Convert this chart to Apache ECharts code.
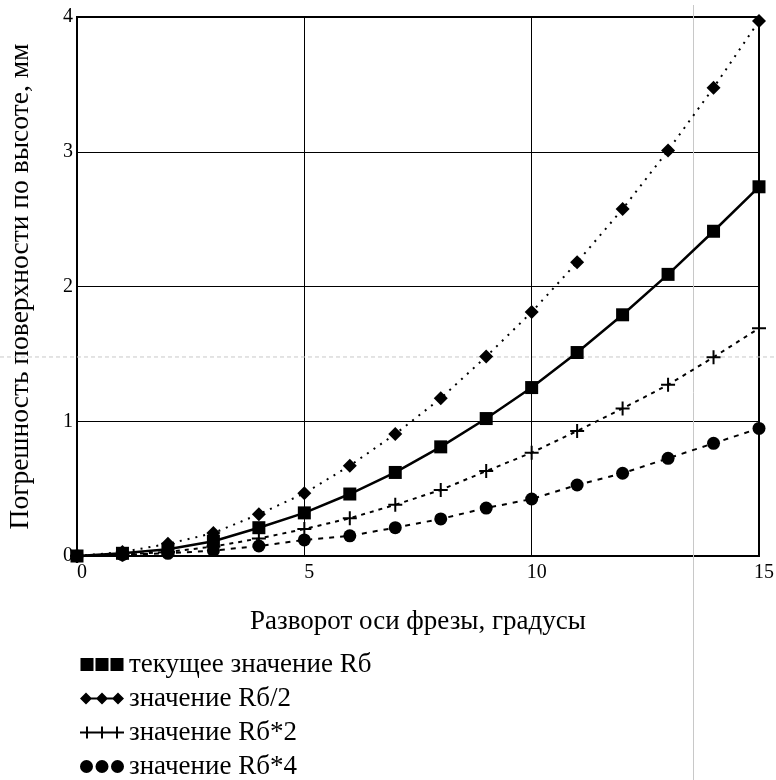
<!DOCTYPE html>
<html>
<head>
<meta charset="utf-8">
<script src="https://cdn.jsdelivr.net/npm/echarts@6/dist/echarts.min.js"></script>
<style>
  html, body { margin: 0; padding: 0; background: #fff; }
  #chart { width: 776px; height: 780px; }
</style>
</head>
<body>
<div id="chart"></div>
<script>
// angle of the cutter axis, degrees
const angles = [0, 1, 2, 3, 4, 5, 6, 7, 8, 9, 10, 11, 12, 13, 14, 15]
// surface height error, mm
const rCurrent = [0, 0.02, 0.05, 0.11, 0.21, 0.32, 0.46, 0.62, 0.81, 1.02, 1.25, 1.51, 1.79, 2.09, 2.41, 2.74]
const rHalf = [0, 0.03, 0.09, 0.17, 0.31, 0.465, 0.67, 0.905, 1.17, 1.48, 1.81, 2.18, 2.575, 3.01, 3.475, 3.97]
const rDouble = [0, 0.01, 0.03, 0.07, 0.13, 0.2, 0.28, 0.38, 0.49, 0.63, 0.767, 0.928, 1.095, 1.27, 1.475, 1.69]
const rQuad = [0, 0.01, 0.02, 0.04, 0.074, 0.119, 0.15, 0.21, 0.275, 0.356, 0.423, 0.527, 0.614, 0.725, 0.836, 0.947]
// Mathcad trace cursor position (x, y)
const cursor = [13.56, 1.477]

const names = ['текущее значение Rб', 'значение Rб/2', 'значение Rб*2', 'значение Rб*4']

const pair = arr => angles.map((a, i) => [a, arr[i]])

const crossPath = 'path://M0,6H6V0H8V6H14V8H8V14H6V8H0Z'
const diamondPath = 'path://M6,0L12,6L6,12L0,6Z'

const chart = echarts.init(document.getElementById('chart'))
chart.setOption({
  animation: false,
  textStyle: { fontFamily: 'Liberation Serif', color: '#000' },
  grid: {
    left: 77,
    right: 17,
    top: 17,
    bottom: 224,
    outerBoundsMode: 'none',
    show: true,
    borderColor: '#000',
    borderWidth: 2
  },
  legend: {
    orient: 'vertical',
    left: 80,
    top: 651,
    padding: 0,
    itemGap: 7,
    itemWidth: 44,
    itemHeight: 13,
    textStyle: { fontFamily: 'Liberation Serif', fontSize: 27, lineHeight: 26, color: '#000' },
    data: [
      { name: names[0], icon: 'path://M0,0H13V13H0ZM15,0H28V13H15ZM30,0H43V13H30Z' },
      { name: names[1], icon: 'path://M6,0L12,6L6,12L0,6ZM22,0L28,6L22,12L16,6ZM38,0L44,6L38,12L32,6ZM10,5H34V7H10Z' },
      { name: names[2], icon: 'path://M0,5H44V7H0ZM6,0H8V12H6ZM21,0H23V12H21ZM36,0H38V12H36Z' },
      { name: names[3], icon: 'path://M0,6.5A6.5,6.5,0,1,0,13,6.5A6.5,6.5,0,1,0,0,6.5ZM15.5,6.5A6.5,6.5,0,1,0,28.5,6.5A6.5,6.5,0,1,0,15.5,6.5ZM31,6.5A6.5,6.5,0,1,0,44,6.5A6.5,6.5,0,1,0,31,6.5Z' }
    ]
  },
  xAxis: {
    type: 'value',
    min: 0,
    max: 15,
    interval: 5,
    name: 'Разворот оси фрезы, градусы',
    nameLocation: 'middle',
    nameGap: 52,
    nameTextStyle: { fontFamily: 'Liberation Serif', fontSize: 27, color: '#000' },
    axisLine: { lineStyle: { color: '#000', width: 2 } },
    axisTick: { show: false },
    axisLabel: { fontSize: 20, color: '#000', margin: 7, padding: [0, 0, 0, 10] },
    splitLine: { lineStyle: { color: '#000', width: 1 } }
  },
  yAxis: {
    type: 'value',
    min: 0,
    max: 4,
    interval: 1,
    name: 'Погрешность поверхности по высоте, мм',
    nameLocation: 'middle',
    nameGap: 42,
    nameTextStyle: { fontFamily: 'Liberation Serif', fontSize: 27.5, color: '#000' },
    axisLine: { lineStyle: { color: '#000', width: 2 } },
    axisTick: { show: false },
    axisLabel: { fontSize: 20, color: '#000', margin: 4, padding: [8, 0, 0, 0] },
    splitLine: { lineStyle: { color: '#000', width: 1 } }
  },
  series: [{
    name: names[0],
    type: 'line',
    data: pair(rCurrent),
    symbol: 'rect',
    symbolSize: 13,
    itemStyle: { color: '#000' },
    lineStyle: { color: '#000', width: 2.5 },
    z: 5
  }, {
    name: names[1],
    type: 'line',
    data: pair(rHalf),
    symbol: diamondPath,
    symbolSize: 14,
    itemStyle: { color: '#000' },
    lineStyle: { color: '#000', width: 2, type: [2, 6] }
  }, {
    name: names[2],
    type: 'line',
    data: pair(rDouble),
    symbol: crossPath,
    symbolSize: 14,
    itemStyle: { color: '#000' },
    lineStyle: { color: '#000', width: 2, type: [4, 5] }
  }, {
    name: names[3],
    type: 'line',
    data: pair(rQuad),
    symbol: 'circle',
    symbolSize: 13,
    itemStyle: { color: '#000' },
    lineStyle: { color: '#000', width: 2, type: [5, 6] }
  }]
})

// cursor lines go across the whole picture
const cp = chart.convertToPixel({ gridIndex: 0 }, cursor)
chart.setOption({
  graphic: [{
    type: 'line',
    shape: { x1: cp[0], y1: 5, x2: cp[0], y2: 780 },
    style: { stroke: '#c8c8c8', lineWidth: 1 },
    z: 1
  }, {
    type: 'line',
    shape: { x1: 0, y1: cp[1], x2: 776, y2: cp[1] },
    style: { stroke: '#c8c8c8', lineWidth: 1, lineDash: [4, 3] },
    z: 1
  }]
})
</script>
</body>
</html>
